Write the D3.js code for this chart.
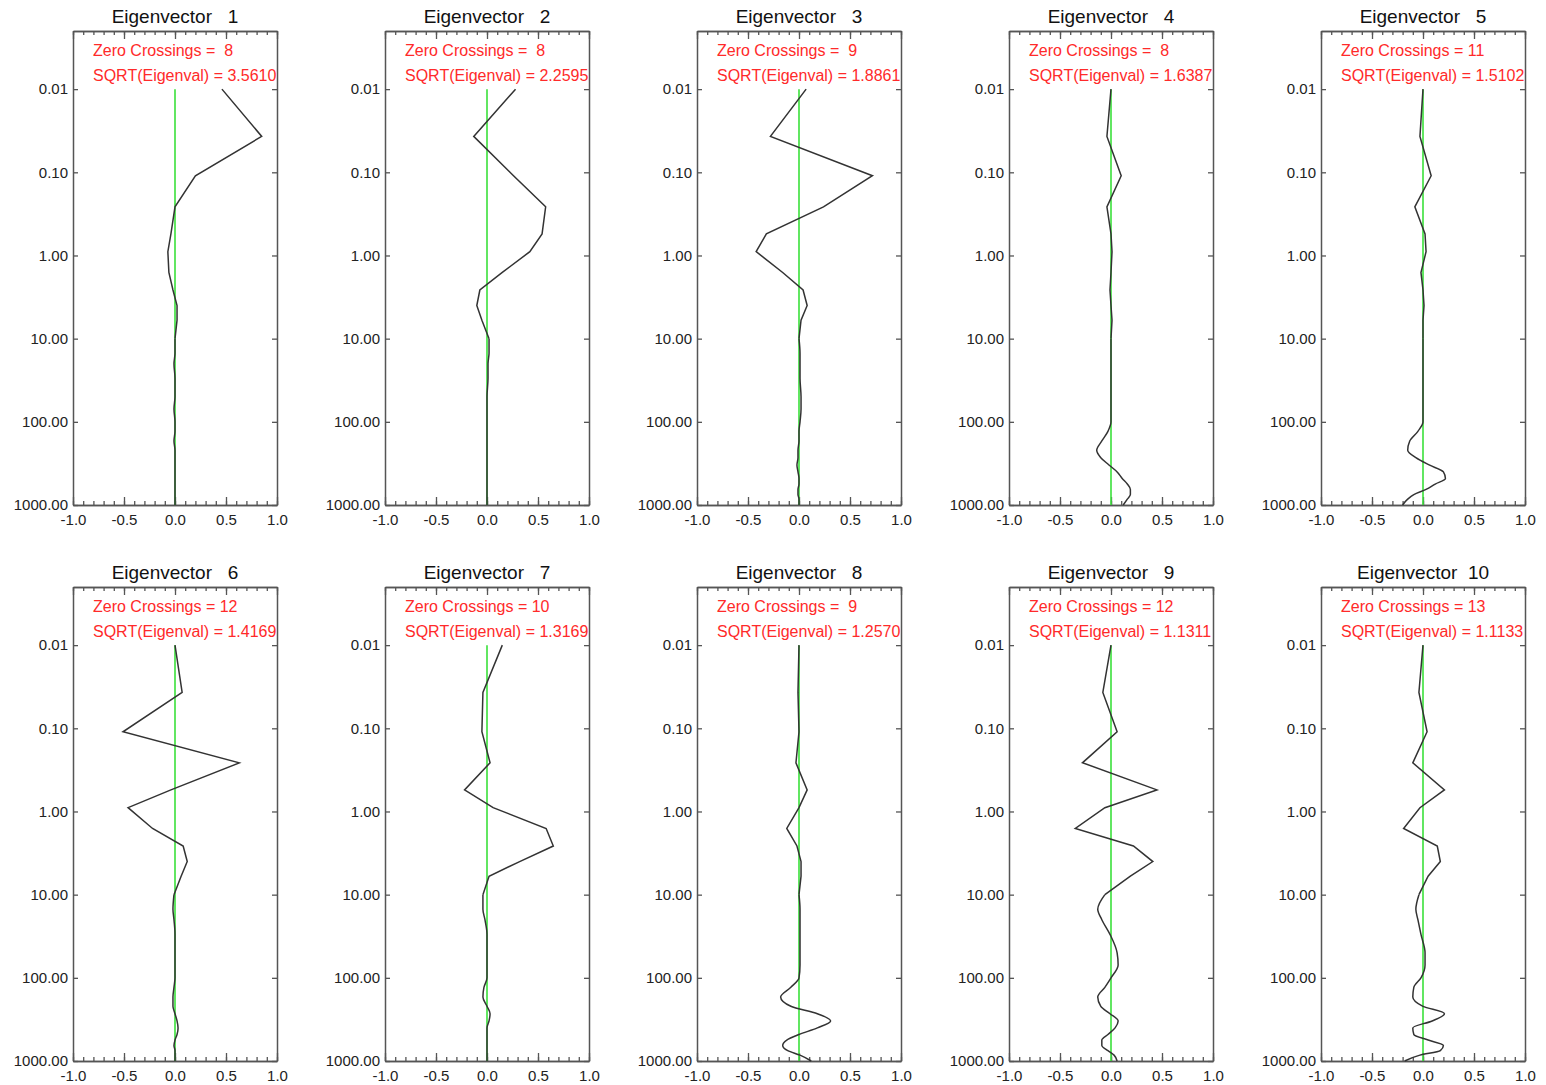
<!DOCTYPE html>
<html>
<head>
<meta charset="utf-8">
<script src="https://cdn.jsdelivr.net/npm/d3@7"></script>
<style>
  body { margin: 0; background: #fff; }
  svg { display: block; font-family: "Liberation Sans", Arial, Helvetica, sans-serif; }
</style>
</head>
<body>
<svg id="chart" width="1546" height="1085"></svg>
<script>
// pressure levels (shared by all eigenvectors)
var levels = [0.01, 0.037, 0.11, 0.26, 0.55, 0.9, 1.6, 2.6, 4, 6, 10, 15, 20, 30, 50, 70,
              100, 130, 170, 220, 270, 330, 400, 480, 560, 650, 750, 850, 1000];

var ev1 = [0.46, 0.85, 0.2, 0.0, -0.04, -0.07, -0.06, -0.02, 0.02, 0.02, 0.0, 0.0, -0.01, 0.0, 0.0, -0.01,
           0.0, 0.0, -0.01, 0.0, 0.0, 0.0, 0.0, 0.0, 0.0, 0.0, 0.0, 0.0, 0.0];
var ev2 = [0.28, -0.13, 0.26, 0.575, 0.54, 0.42, 0.15, -0.07, -0.1, -0.05, 0.02, 0.02, 0.01, 0.01, 0.0, 0.0,
           0.0, 0.0, 0.0, 0.0, 0.0, 0.0, 0.0, 0.0, 0.0, 0.0, 0.0, 0.0, 0.0];
var ev3 = [0.07, -0.28, 0.72, 0.24, -0.32, -0.42, -0.16, 0.04, 0.08, 0.02, 0.0, 0.01, 0.01, 0.01, 0.02, 0.02,
           0.01, 0.0, 0.0, -0.01, -0.01, -0.02, -0.01, 0.0, 0.0, -0.01, -0.01, 0.0, 0.0];
var ev4 = [0.0, -0.04, 0.1, -0.04, 0.0, 0.01, 0.0, -0.01, 0.0, 0.01, 0.0, 0.0, 0.0, 0.0, 0.0, 0.0,
           0.0, -0.03, -0.09, -0.14, -0.1, -0.02, 0.06, 0.11, 0.16, 0.19, 0.19, 0.16, 0.12];
var ev5 = [0.0, -0.03, 0.08, -0.08, 0.02, 0.03, -0.02, 0.0, 0.01, 0.0, 0.0, 0.0, 0.0, 0.0, 0.0, 0.0,
           0.0, -0.05, -0.13, -0.15, -0.07, 0.06, 0.2, 0.22, 0.12, 0.03, -0.09, -0.15, -0.2];
var ev6 = [0.0, 0.07, -0.51, 0.63, -0.04, -0.46, -0.22, 0.08, 0.12, 0.06, -0.01, -0.02, -0.01, 0.0, 0.0, 0.0,
           0.0, -0.01, -0.02, -0.02, 0.0, 0.02, 0.03, 0.02, 0.0, -0.01, 0.0, 0.0, 0.0];
var ev7 = [0.15, -0.04, -0.05, 0.03, -0.22, 0.06, 0.58, 0.65, 0.32, 0.02, -0.04, -0.04, -0.02, 0.0, 0.0, 0.0,
           0.0, -0.03, -0.04, 0.0, 0.03, 0.02, 0.0, 0.0, 0.0, 0.0, 0.0, 0.0, 0.0];
var ev8 = [0.0, -0.01, 0.0, -0.03, 0.08, 0.0, -0.12, -0.02, 0.02, 0.02, 0.0, 0.01, 0.01, 0.01, 0.01, 0.01,
           0.0, -0.08, -0.18, -0.08, 0.18, 0.31, 0.18, 0.0, -0.12, -0.16, -0.11, 0.01, 0.12];
var ev9 = [0.0, -0.08, 0.06, -0.28, 0.45, -0.06, -0.35, 0.22, 0.41, 0.19, -0.06, -0.13, -0.09, -0.01, 0.06, 0.07,
           0.0, -0.06, -0.13, -0.1, -0.01, 0.07, 0.04, -0.03, -0.09, -0.09, -0.03, 0.03, 0.06];
var ev10 = [0.0, -0.04, 0.04, -0.1, 0.21, -0.03, -0.19, 0.14, 0.17, 0.05, -0.04, -0.07, -0.05, -0.02, 0.02, 0.02,
            -0.02, -0.09, -0.1, 0.0, 0.21, 0.09, -0.1, -0.09, 0.05, 0.2, 0.17, -0.03, -0.18];

var vectors = [ev1, ev2, ev3, ev4, ev5, ev6, ev7, ev8, ev9, ev10];
var zeroCrossings = [8, 8, 9, 8, 11, 12, 10, 9, 12, 13];
var sqrtEigenval = ["3.5610", "2.2595", "1.8861", "1.6387", "1.5102", "1.4169", "1.3169", "1.2570", "1.1311", "1.1133"];

var yTicks = [0.01, 0.1, 1, 10, 100, 1000];
var xMajor = [-1, -0.5, 0, 0.5, 1];
var xMinor = d3.range(-10, 11).map(function (d) { return d / 10; });

// plain hyphen minus like the original plot
var fmtX = function (d) { return d3.format(".1f")(d).replace("\u2212", "-"); };

var svg = d3.select("#chart");
svg.append("rect").attr("width", 1546).attr("height", 1085).attr("fill", "#fff");

var panelW = 204, panelH = 474;
var colStep = 312, rowStep = 556;
var left0 = 73, top0 = 31;
var splitAt = 10; // index of 10 hPa: linear above, smooth below

vectors.forEach(function (vals, i) {
    var col = i % 5, row = Math.floor(i / 5);
    var L = left0 + col * colStep, T = top0 + row * rowStep;

    var x = d3.scaleLinear().domain([-1, 1]).range([L, L + panelW]);
    var y = d3.scaleLog().domain([0.002, 1000]).range([T, T + panelH]);

    var g = svg.append("g");

    // axes make up the box, ticks point inward
    var styleAxis = function (a) {
        a.select(".domain").attr("stroke", "#555").attr("stroke-width", 1.5);
        a.selectAll(".tick line").attr("stroke", "#555").attr("stroke-width", 1.3);
        a.selectAll("text").attr("fill", "#222").attr("font-size", 15)
            .attr("font-family", "'Liberation Sans', Arial, sans-serif");
    };

    g.append("g").attr("transform", "translate(0," + (T + panelH) + ")")
        .call(d3.axisBottom(x).tickValues(xMinor).tickSize(-4).tickSizeOuter(0).tickFormat(""))
        .call(styleAxis);
    g.append("g").attr("transform", "translate(0," + (T + panelH) + ")")
        .call(d3.axisBottom(x).tickValues(xMajor).tickSize(-8).tickSizeOuter(0).tickPadding(9).tickFormat(fmtX))
        .call(styleAxis);
    g.append("g").attr("transform", "translate(0," + T + ")")
        .call(d3.axisTop(x).tickValues(xMinor).tickSize(-4).tickSizeOuter(0).tickFormat(""))
        .call(styleAxis);
    g.append("g").attr("transform", "translate(0," + T + ")")
        .call(d3.axisTop(x).tickValues(xMajor).tickSize(-8).tickSizeOuter(0).tickFormat(""))
        .call(styleAxis);
    g.append("g").attr("transform", "translate(" + L + ",0)")
        .call(d3.axisLeft(y).tickValues(yTicks).tickSize(-5).tickSizeOuter(0).tickPadding(5).tickFormat(d3.format(".2f")))
        .call(styleAxis);
    g.append("g").attr("transform", "translate(" + (L + panelW) + ",0)")
        .call(d3.axisRight(y).tickValues(yTicks).tickSize(-5).tickSizeOuter(0).tickFormat(""))
        .call(styleAxis);

    // title
    g.append("text")
        .attr("x", x(0)).attr("y", T - 8)
        .attr("text-anchor", "middle")
        .attr("font-size", 19).attr("fill", "#111")
        .style("white-space", "pre")
        .text("Eigenvector " + String(i + 1).padStart(3));

    // zero reference line
    g.append("line")
        .attr("x1", x(0)).attr("x2", x(0))
        .attr("y1", y(levels[0])).attr("y2", y(levels[levels.length - 1]))
        .attr("stroke", "#3ae03a").attr("stroke-width", 1.6);

    var pts = levels.map(function (p, k) { return [p, vals[k]]; });

    var lineLin = d3.line()
        .x(function (d) { return x(d[1]); })
        .y(function (d) { return y(d[0]); })
        .curve(d3.curveLinear);
    var lineSmooth = d3.line()
        .x(function (d) { return x(d[1]); })
        .y(function (d) { return y(d[0]); })
        .curve(d3.curveMonotoneY);

    g.append("path")
        .datum(pts.slice(0, splitAt + 1))
        .attr("d", lineLin)
        .attr("fill", "none").attr("stroke", "#333").attr("stroke-width", 1.5);
    g.append("path")
        .datum(pts.slice(splitAt))
        .attr("d", lineSmooth)
        .attr("fill", "none").attr("stroke", "#333").attr("stroke-width", 1.5);

    // red annotation
    g.append("text")
        .attr("x", L + 20).attr("y", T + 25)
        .attr("font-size", 16).attr("fill", "#ff2a2a")
        .style("white-space", "pre")
        .text("Zero Crossings = " + String(zeroCrossings[i]).padStart(2));
    g.append("text")
        .attr("x", L + 20).attr("y", T + 50)
        .attr("font-size", 16).attr("fill", "#ff2a2a")
        .style("white-space", "pre")
        .text("SQRT(Eigenval) = " + sqrtEigenval[i]);
});
</script>
</body>
</html>
